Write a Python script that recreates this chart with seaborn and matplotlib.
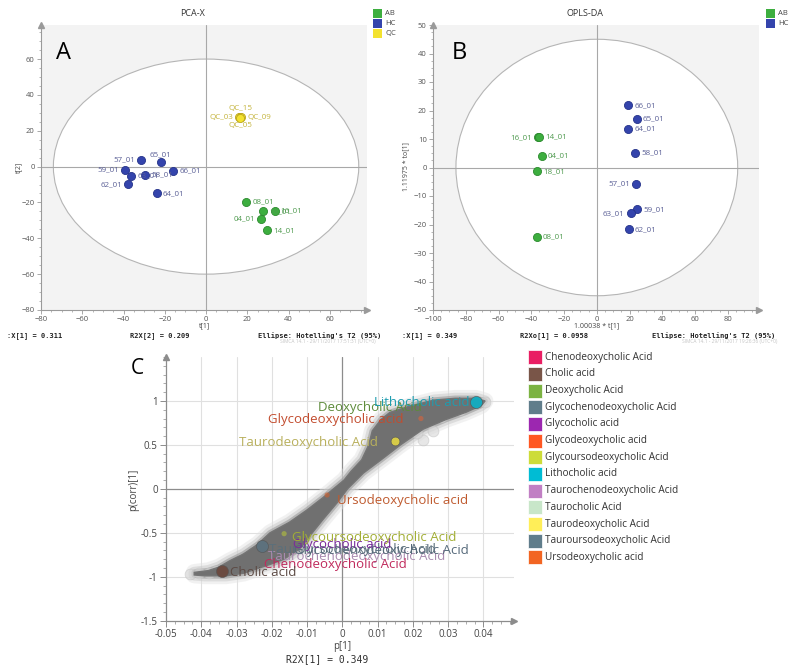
import numpy as np
import pandas as pd
import matplotlib
matplotlib.use('Agg')
import matplotlib.pyplot as plt
from matplotlib.patches import Ellipse, Polygon, Rectangle
from matplotlib.ticker import MultipleLocator
import seaborn as sns

# ---------------- A: PCA-X score plot ----------------
pca_hc_ids = ['57_01', '65_01', '59_01', '63_01', '58_01', '66_01', '62_01', '64_01']
pca_hc_t1 = [-31.5, -22.0, -39.2, -36.3, -29.5, -15.8, -37.6, -24.0]
pca_hc_t2 = [3.9, 2.4, -2.0, -5.0, -4.5, -2.2, -9.9, -15.0]
pca_hc_side = ['L', 'T', 'L', 'R', 'R', 'R', 'L', 'R']

pca_ab_ids = ['08_01', '18_01', '16_01', '04_01', '14_01']
pca_ab_t1 = [19.3, 27.5, 33.2, 26.8, 29.4]
pca_ab_t2 = [-19.9, -25.0, -24.6, -29.2, -35.6]
pca_ab_side = ['R', 'R', 'R', 'L', 'R']

pca_qc_ids = ['QC_15', 'QC_03', 'QC_09', 'QC_05']
pca_qc_t1 = [16.6, 16.2, 17.0, 16.5]
pca_qc_t2 = [27.9, 27.5, 27.6, 27.2]
pca_qc_side = ['T', 'L', 'R', 'B']

# ---------------- B: OPLS-DA score plot ----------------
opls_hc_ids = ['66_01', '65_01', '64_01', '58_01', '57_01', '59_01', '63_01', '62_01']
opls_hc_t1 = [19.2, 24.4, 19.2, 23.2, 24.0, 24.4, 20.8, 19.5]
opls_hc_to1 = [21.8, 17.0, 13.6, 5.0, -5.8, -14.7, -16.1, -21.7]
opls_hc_side = ['R', 'R', 'R', 'R', 'L', 'R', 'L', 'R']

opls_ab_ids = ['16_01', '14_01', '04_01', '18_01', '08_01']
opls_ab_t1 = [-35.6, -35.2, -33.6, -36.3, -36.7]
opls_ab_to1 = [10.6, 10.7, 4.2, -1.4, -24.4]
opls_ab_side = ['L', 'R', 'R', 'R', 'R']

# ---------------- C: S-plot ----------------
# outline of the dense cloud of variables
cloud_x = [-0.0420, -0.038, -0.035, -0.032, -0.028, -0.024, -0.0205, -0.015, -0.0100,
           -0.0055, -0.0025, 0.0005, 0.0025, 0.0055, 0.0075, 0.0085, 0.0110, 0.0135,
           0.0190, 0.0260, 0.0320, 0.0380, 0.0405,
           0.0395, 0.0350, 0.0295, 0.0230, 0.0165, 0.0110, 0.0060, 0.0015, -0.0015,
           -0.0055, -0.0085, -0.0120, -0.0165, -0.0205, -0.0280, -0.0330, -0.0390, -0.0420]
cloud_y = [-0.95, -0.93, -0.89, -0.82, -0.74, -0.63, -0.50, -0.38, -0.24,
           -0.10, 0.0, 0.10, 0.20, 0.33, 0.50, 0.66, 0.79, 0.87,
           0.94, 1.01, 1.03, 1.03, 1.00,
           0.95, 0.87, 0.79, 0.68, 0.50, 0.33, 0.18, 0.0, -0.16,
           -0.35, -0.50, -0.68, -0.80, -0.86, -0.96, -0.99, -0.99, -0.98]
halo_x = [-0.0432, -0.0405, -0.0378, -0.0358, -0.0310, -0.0300, -0.0285, -0.0265,
          -0.0245, 0.0405, 0.0335, 0.0280, 0.0258, 0.0230, 0.0212]
halo_y = [-0.965, -0.962, -0.957, -0.935, -0.90, -0.84, -0.80, -0.75,
          -0.70, 0.985, 0.90, 0.82, 0.66, 0.56, 0.63]

acid_names = ['Chenodeoxycholic Acid', 'Cholic acid', 'Deoxycholic Acid',
              'Glycochenodeoxycholic Acid', 'Glycocholic acid', 'Glycodeoxycholic acid',
              'Glycoursodeoxycholic Acid', 'Lithocholic acid', 'Taurochenodeoxycholic Acid',
              'Taurocholic Acid', 'Taurodeoxycholic Acid', 'Tauroursodeoxycholic Acid',
              'Ursodeoxycholic acid']
acid_colors = ['#e91e63', '#795548', '#7cb342', '#607d8b', '#9c27b0', '#ff5722',
               '#cddc39', '#00bcd4', '#c17fc4', '#c8e6c9', '#ffee58', '#607d8b', '#f26522']

# highlighted variables that are visible as markers
mark_names = ['Cholic acid', 'Tauroursodeoxycholic Acid', 'Glycoursodeoxycholic Acid',
              'Ursodeoxycholic acid', 'Taurodeoxycholic Acid', 'Glycodeoxycholic acid',
              'Lithocholic acid']
mark_p1 = [-0.0340, -0.0229, -0.0165, -0.0043, 0.0150, 0.0223, 0.0378]
mark_pcorr = [-0.94, -0.655, -0.51, -0.07, 0.54, 0.80, 0.99]

# text labels (drawn in this order)
lab_names = ['Taurochenodeoxycholic Acid', 'Tauroursodeoxycholic Acid',
             'Glycochenodeoxycholic Acid', 'Glycocholic acid', 'Chenodeoxycholic Acid',
             'Glycoursodeoxycholic Acid', 'Cholic acid', 'Ursodeoxycholic acid',
             'Taurodeoxycholic Acid', 'Glycodeoxycholic acid', 'Deoxycholic Acid',
             'Lithocholic acid']
lab_x = [-0.0210, -0.0207, -0.0137, -0.0139, -0.0222, -0.0142, -0.0318, -0.0014,
         -0.0293, -0.0210, -0.0070, 0.0362]
lab_y = [-0.775, -0.69, -0.70, -0.635, -0.865, -0.55, -0.95, -0.13,
         0.53, 0.79, 0.925, 0.98]
lab_colors = ['#a98bb0', '#5b6f7b', '#55697a', '#7b2c9a', '#c02a5c', '#a2ae34',
              '#5c4a44', '#bf5a2e', '#b9b05c', '#c24c2e', '#5d8b3a', '#1f9db0']

# ---------------- style ----------------
sns.set_style('ticks')
plt.rcParams['font.family'] = ['Open Sans', 'DejaVu Sans']
MONO = ['DejaVu Sans Mono']

group_fill = {'AB': '#3dae3f', 'HC': '#3444ac', 'QC': '#f3e22f'}
group_edge = {'AB': '#2c8a2e', 'HC': '#25338a', 'QC': '#b9a41c'}
group_text = {'AB': '#4f9a4f', 'HC': '#5a5f96', 'QC': '#c4b43c'}
offsets = {'R': (4.5, 0, 'left'), 'L': (-4.5, 0, 'right'),
           'T': (0, 5.5, 'center'), 'B': (0, -5.5, 'center')}

W, H = 800, 672
fig = plt.figure(figsize=(8, 6.72), dpi=100)


def fxy(x, y):
    return x / W, 1 - y / H


def axes_px(left, top, right, bottom):
    return fig.add_axes([left / W, 1 - bottom / H, (right - left) / W, (bottom - top) / H])


def arrows(ax, color):
    ax.plot([1], [0], marker='>', ms=4, color=color, transform=ax.transAxes, clip_on=False)
    ax.plot([0], [1], marker='^', ms=4, color=color, transform=ax.transAxes, clip_on=False)


def score_panel(ax, groups, xlim, ylim, ell, xstep, ystep, yminor):
    ax.set_facecolor('#f3f3f3')
    ax.add_patch(Ellipse((0, 0), 2 * ell[0], 2 * ell[1], facecolor='white',
                         edgecolor='#b5b5b5', lw=0.8, zorder=0))
    ax.axhline(0, color='#a8a8a8', lw=0.8, zorder=1)
    ax.axvline(0, color='#a8a8a8', lw=0.8, zorder=1)
    for ids, xs, ys, sides, grp in groups:
        df = pd.DataFrame({'x': xs, 'y': ys, 'id': ids})
        sns.scatterplot(data=df, x='x', y='y', color=group_fill[grp], edgecolor=group_edge[grp],
                        linewidth=0.6, s=34, ax=ax, zorder=3)
        for name, x, y, side in zip(ids, xs, ys, sides):
            dx, dy, ha = offsets[side]
            ax.annotate(name, (x, y), xytext=(dx, dy), textcoords='offset points',
                        ha=ha, va='center', fontsize=5.8, color=group_text[grp], zorder=4)
    ax.set_xlim(xlim)
    ax.set_ylim(ylim)
    ax.xaxis.set_major_locator(MultipleLocator(xstep))
    ax.yaxis.set_major_locator(MultipleLocator(ystep))
    ax.xaxis.set_minor_locator(MultipleLocator(xstep / 4))
    ax.yaxis.set_minor_locator(MultipleLocator(yminor))
    ax.set_xlabel('')
    ax.set_ylabel('')
    for s in ['top', 'right']:
        ax.spines[s].set_visible(False)
    for s in ['left', 'bottom']:
        ax.spines[s].set_color('#9a9a9a')
        ax.spines[s].set_linewidth(0.8)
    ax.tick_params(which='major', length=3, width=0.6, color='#9a9a9a',
                   labelsize=5.5, labelcolor='#555555', pad=1.5)
    ax.tick_params(which='minor', length=1.5, width=0.5, color='#9a9a9a')
    arrows(ax, '#9a9a9a')


# ---- panel A ----
axA = axes_px(41, 25, 367, 310)
score_panel(axA,
            [(pca_hc_ids, pca_hc_t1, pca_hc_t2, pca_hc_side, 'HC'),
             (pca_ab_ids, pca_ab_t1, pca_ab_t2, pca_ab_side, 'AB'),
             (pca_qc_ids, pca_qc_t1, pca_qc_t2, pca_qc_side, 'QC')],
            (-80, 78), (-80, 79), (74, 60), 20, 20, 5)

# ---- panel B ----
axB = axes_px(433, 25, 759, 310)
score_panel(axB,
            [(opls_hc_ids, opls_hc_t1, opls_hc_to1, opls_hc_side, 'HC'),
             (opls_ab_ids, opls_ab_t1, opls_ab_to1, opls_ab_side, 'AB')],
            (-100, 99), (-50, 50), (86, 45), 20, 10, 2.5)

# titles, axis labels and legends of A and B
fig.text(*fxy(193, 14), 'PCA-X', ha='center', va='center', fontsize=6.5, color='#333333')
fig.text(*fxy(585, 14), 'OPLS-DA', ha='center', va='center', fontsize=6.5, color='#333333')
fig.text(*fxy(64, 53), 'A', ha='center', va='center', fontsize=17, color='black')
fig.text(*fxy(459, 53), 'B', ha='center', va='center', fontsize=17, color='black')
fig.text(*fxy(19, 167), 't[2]', ha='center', va='center', rotation=90, fontsize=5, color='#444444')
fig.text(*fxy(406, 167), '1.11975 * to[1]', ha='center', va='center', rotation=90,
         fontsize=5, color='#444444')
fig.text(*fxy(204, 326), 't[1]', ha='center', va='center', fontsize=5, color='#444444')
fig.text(*fxy(597, 326), '1.00038 * t[1]', ha='center', va='center', fontsize=5, color='#444444')

for lx, groups in [(373, ['AB', 'HC', 'QC']), (766, ['AB', 'HC'])]:
    for i, g in enumerate(groups):
        cy = 13.3 + 10 * i
        fig.add_artist(Rectangle(fxy(lx, cy + 4.5), 9 / W, 9 / H, transform=fig.transFigure,
                                 facecolor=group_fill[g], edgecolor='none'))
        fig.text(*fxy(lx + 12, cy), g, ha='left', va='center', fontsize=5.5, color='#444444')

stat_rows = [(7, ':X[1] = 0.311'), (130, 'R2X[2] = 0.209'), (258, "Ellipse: Hotelling's T2 (95%)"),
             (402, ':X[1] = 0.349'), (520, 'R2Xo[1] = 0.0958'), (652, "Ellipse: Hotelling's T2 (95%)")]
for sx, txt in stat_rows:
    fig.text(*fxy(sx, 335.5), txt, ha='left', va='center', fontsize=5, family=MONO,
             fontweight='bold', color='#222222')
fig.text(*fxy(280, 341), 'SIMCA 14.1 - 29/11/2017 17:51:31 (UTC+0)', ha='left', va='center',
         fontsize=3.5, color='#c4c4c4')
fig.text(*fxy(682, 341), 'SIMCA 14.1 - 29/11/2017 19:26:36 (UTC+0)', ha='left', va='center',
         fontsize=3.5, color='#c4c4c4')

# ---- panel C: S-plot ----
axC = axes_px(166, 357, 514, 620.7)
axC.set_xlim(-0.05, 0.0487)
axC.set_ylim(-1.5, 1.5)
for gx in np.arange(-0.04, 0.0401, 0.01):
    if abs(gx) > 1e-9:
        axC.axvline(gx, color='#e0e0e0', lw=0.8, zorder=0)
for gy in [-1, -0.5, 0.5, 1]:
    axC.axhline(gy, color='#e0e0e0', lw=0.8, zorder=0)
axC.axvline(0, color='#8c8c8c', lw=0.9, zorder=0.5)
axC.axhline(0, color='#8c8c8c', lw=0.9, zorder=0.5)

# the cloud: soft halo layers under a dense grey core
cloud = np.column_stack([cloud_x, cloud_y])
for lw, col, a in [(12, '#e2e2e2', 0.45), (8, '#c8c8c8', 0.5), (4, '#9a9a9a', 0.6)]:
    axC.add_patch(Polygon(cloud, closed=True, facecolor='none', edgecolor=col, lw=lw,
                          alpha=a, joinstyle='round', zorder=1))
axC.add_patch(Polygon(cloud, closed=True, facecolor='#707070', edgecolor='#747474', lw=1,
                      zorder=1.4))
halo = pd.DataFrame({'p1': halo_x, 'pcorr': halo_y})
sns.scatterplot(data=halo, x='p1', y='pcorr', color='#d8d8d8', edgecolor='#c4c4c4',
                linewidth=0.6, s=60, alpha=0.6, ax=axC, zorder=1.1)

mark_color = {'Cholic acid': '#6b4b41', 'Tauroursodeoxycholic Acid': '#5d717d',
              'Glycoursodeoxycholic Acid': '#b5c23c', 'Ursodeoxycholic acid': '#d0602e',
              'Taurodeoxycholic Acid': '#d6ca48', 'Glycodeoxycholic acid': '#d8643c',
              'Lithocholic acid': '#17a9bd'}
mark_size = {'Cholic acid': 75, 'Tauroursodeoxycholic Acid': 75, 'Lithocholic acid': 75,
             'Taurodeoxycholic Acid': 40}
marks = pd.DataFrame({'name': mark_names, 'p1': mark_p1, 'pcorr': mark_pcorr})
for _, r in marks.iterrows():
    big = r['name'] in mark_size
    sns.scatterplot(x=[r['p1']], y=[r['pcorr']], color=mark_color[r['name']],
                    edgecolor='#555555' if big else 'none', linewidth=0.4,
                    s=mark_size.get(r['name'], 14), alpha=1 if big else 0.6, ax=axC, zorder=3)

for name, x, y, col in zip(lab_names, lab_x, lab_y, lab_colors):
    ha = 'right' if name == 'Lithocholic acid' else 'left'
    axC.text(x, y, name, ha=ha, va='center', fontsize=9.5, color=col, zorder=4)

axC.set_xticks(np.arange(-0.05, 0.0401, 0.01))
axC.set_xticklabels(['-0.05', '-0.04', '-0.03', '-0.02', '-0.01', '0', '0.01', '0.02', '0.03', '0.04'])
axC.set_yticks([-1.5, -1, -0.5, 0, 0.5, 1])
axC.set_yticklabels(['-1.5', '-1', '-0.5', '0', '0.5', '1'])
axC.xaxis.set_minor_locator(MultipleLocator(0.0025))
axC.yaxis.set_minor_locator(MultipleLocator(0.1))
axC.set_xlabel('')
axC.set_ylabel('')
for s in ['top', 'right']:
    axC.spines[s].set_visible(False)
for s in ['left', 'bottom']:
    axC.spines[s].set_color('#8c8c8c')
    axC.spines[s].set_linewidth(0.9)
axC.tick_params(which='major', length=4, width=0.7, color='#8c8c8c', labelsize=7,
                labelcolor='#444444', pad=2)
axC.tick_params(which='minor', length=2, width=0.5, color='#8c8c8c')
arrows(axC, '#8c8c8c')

fig.text(*fxy(137, 368), 'C', ha='center', va='center', fontsize=15, color='black')
fig.text(*fxy(134, 490), 'p(corr)[1]', ha='center', va='center', rotation=90, fontsize=7,
         color='#444444')
fig.text(*fxy(342, 646), 'p[1]', ha='center', va='center', fontsize=7, color='#444444')
fig.text(*fxy(327, 659), 'R2X[1] = 0.349', ha='center', va='center', fontsize=7, family=MONO,
         color='#333333')

# legend of panel C
for i, (name, col) in enumerate(zip(acid_names, acid_colors)):
    cy = 357.3 + 16.67 * i
    fig.add_artist(Rectangle(fxy(528, cy + 7), 14 / W, 14 / H, transform=fig.transFigure,
                             facecolor=col, edgecolor='white', lw=0.5))
    fig.text(*fxy(545, cy), name, ha='left', va='center', fontsize=7.2, color='#333333')

fig.savefig('out.png', dpi=100)
